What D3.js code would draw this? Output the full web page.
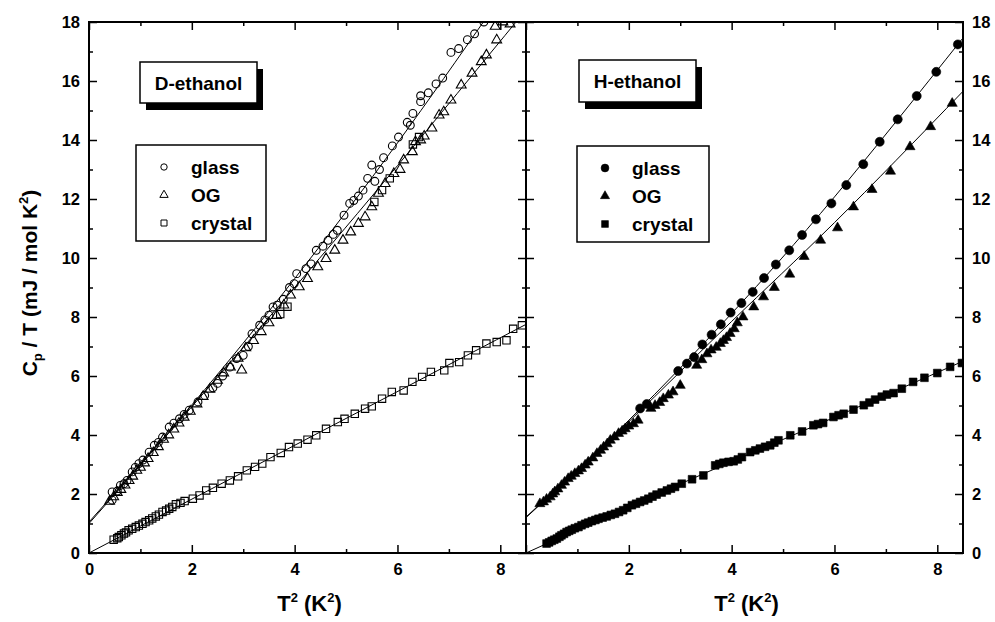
<!DOCTYPE html>
<html>
<head>
<meta charset="utf-8">
<script src="https://cdn.jsdelivr.net/npm/d3@7"></script>
<style>
  body { margin: 0; background: #fff; }
  svg { display: block; font-family: "Liberation Sans", Arial, Helvetica, sans-serif; font-weight: bold; }
</style>
</head>
<body>
<div id="chart"></div>
<script>
// ---- data: [T^2 (K^2), Cp/T (mJ/mol K^2)] ----
const xMajor = [0, 2, 4, 6, 8];
const xMinor = [1, 3, 5, 7];
const yMajor = [0, 2, 4, 6, 8, 10, 12, 14, 16, 18];
const yMinor = [1, 3, 5, 7, 9, 11, 13, 15, 17];
const legendNames = ['glass', 'OG', 'crystal'];

// D-ethanol (open symbols)
const dGlass = [[0.45,1.79],[0.45,2.07],[0.55,2.1],[0.61,2.29],[0.68,2.35],[0.74,2.46],[0.84,2.75],[0.9,2.9],[0.97,3.03],[1.05,3.15],
  [1.17,3.42],[1.27,3.65],[1.35,3.75],[1.43,3.93],[1.56,4.27],[1.65,4.4],[1.76,4.55],[1.85,4.7],[1.95,4.84],[2.12,5.12],
  [2.25,5.34],[2.41,5.6],[2.5,5.75],[2.6,6.0],[2.74,6.3],[2.87,6.59],[3.0,6.7],[3.1,7.0],[3.17,7.43],[3.32,7.72],
  [3.42,7.9],[3.5,8.06],[3.58,8.34],[3.66,8.4],[3.78,8.6],[3.9,9.0],[3.99,9.13],[4.04,9.47],[4.22,9.64],[4.32,9.8],
  [4.42,10.26],[4.55,10.4],[4.65,10.6],[4.75,10.8],[4.83,10.94],[4.96,11.45],[5.07,11.85],[5.15,11.95],[5.24,12.1],[5.33,12.3],
  [5.42,12.7],[5.5,13.15],[5.56,12.6],[5.65,13.0],[5.73,13.4],[5.9,13.8],[6.02,14.1],[6.19,14.6],[6.25,14.5],[6.3,14.9],
  [6.45,15.3],[6.45,15.5],[6.6,15.6],[6.75,15.9],[6.88,16.1],[7.04,16.97],[7.19,17.1],[7.36,17.4],[7.5,17.6],[7.68,18.0]];
const dOG = [[0.4,1.75],[0.48,1.9],[0.55,2.05],[0.62,2.15],[0.7,2.3],[0.78,2.45],[0.85,2.6],[0.93,2.8],[1.0,2.9],[1.08,3.05],
  [1.15,3.2],[1.25,3.4],[1.35,3.6],[1.45,3.85],[1.55,4.0],[1.65,4.2],[1.75,4.4],[1.85,4.6],[1.97,4.8],[2.1,5.05],
  [2.22,5.3],[2.35,5.55],[2.5,5.85],[2.62,6.1],[2.75,6.3],[2.9,6.6],[2.97,6.2],[3.05,6.95],[3.2,7.2],[3.35,7.5],
  [3.5,7.8],[3.65,8.05],[3.79,8.4],[3.92,8.74],[4.09,9.02],[4.25,9.3],[4.45,9.7],[4.61,9.98],[4.78,10.26],[4.94,10.6],
  [5.09,10.88],[5.24,11.17],[5.37,11.39],[5.5,11.73],[5.63,12.19],[5.76,12.52],[5.93,12.86],[6.05,13.0],[6.12,13.32],[6.29,13.6],
  [6.35,13.94],[6.45,14.0],[6.52,14.13],[6.67,14.4],[6.81,14.84],[6.9,14.95],[7.04,15.35],[7.24,15.86],[7.45,16.26],[7.63,16.65],
  [7.73,16.88],[7.9,17.85],[7.93,17.39],[8.05,18.0],[8.19,17.93]];
const dCrystal = [[0.48,0.45],[0.55,0.5],[0.58,0.54],[0.63,0.6],[0.68,0.66],[0.72,0.7],[0.77,0.77],[0.84,0.82],[0.91,0.88],[0.97,0.93],
  [1.04,0.99],[1.1,1.05],[1.17,1.11],[1.23,1.17],[1.3,1.24],[1.36,1.3],[1.43,1.39],[1.5,1.44],[1.56,1.5],[1.62,1.56],
  [1.69,1.65],[1.78,1.7],[1.86,1.76],[2.02,1.84],[2.15,1.95],[2.28,2.12],[2.41,2.21],[2.58,2.35],[2.74,2.46],[2.9,2.6],
  [3.07,2.8],[3.23,2.92],[3.37,3.03],[3.53,3.25],[3.73,3.39],[3.89,3.59],[4.06,3.71],[4.25,3.84],[4.42,3.99],[4.61,4.21],
  [4.84,4.44],[4.97,4.55],[5.17,4.72],[5.37,4.89],[5.5,4.97],[5.7,5.23],[5.89,5.46],[6.12,5.51],[6.29,5.8],[6.48,5.97],
  [6.65,6.14],[6.91,6.19],[7.01,6.44],[7.2,6.47],[7.37,6.7],[7.53,6.87],[7.73,7.1],[7.93,7.15],[8.12,7.21],[8.25,7.6],[8.42,7.72]];
// a few extra squares hidden in the OG band
const dSquaresOG = [[3.72,8.1],[3.86,8.35],[5.55,11.9],[5.7,12.3],[5.85,12.7],[6.3,13.85],[6.42,14.1]];

// H-ethanol (filled symbols)
const hGlass = [[2.22,4.9],[2.35,5.05],[2.96,6.17],[3.13,6.42],[3.27,6.64],[3.43,7.07],[3.61,7.4],[3.79,7.75],[3.98,8.15],[4.19,8.47],
  [4.41,8.85],[4.63,9.32],[4.86,9.78],[5.12,10.26],[5.37,10.78],[5.64,11.31],[5.94,11.85],[6.23,12.47],[6.56,13.18],[6.88,13.94],
  [7.23,14.7],[7.6,15.49],[7.98,16.31],[8.4,17.24]];
const hOG = [[0.27,1.67],[0.34,1.73],[0.4,1.82],[0.47,1.9],[0.52,2.0],[0.56,2.07],[0.62,2.17],[0.69,2.29],[0.75,2.4],[0.82,2.52],
  [0.88,2.6],[0.95,2.69],[1.02,2.78],[1.08,2.86],[1.15,2.98],[1.21,3.08],[1.3,3.22],[1.38,3.37],[1.45,3.48],[1.51,3.59],
  [1.58,3.7],[1.64,3.82],[1.72,3.93],[1.8,4.05],[1.87,4.13],[1.93,4.21],[2.0,4.3],[2.09,4.38],[2.18,4.5],[2.43,4.9],
  [2.51,5.0],[2.6,5.1],[2.67,5.23],[2.77,5.35],[2.86,5.46],[3.0,5.68],[3.32,6.36],[3.42,6.55],[3.52,6.75],[3.6,6.88],
  [3.7,6.97],[3.78,7.1],[3.84,7.2],[3.9,7.3],[3.97,7.44],[4.05,7.6],[4.11,7.8],[4.22,8.0],[4.43,8.34],[4.62,8.68],
  [4.83,9.0],[5.13,9.45],[5.41,10.05],[5.73,10.6],[6.06,11.02],[6.37,11.73],[6.73,12.32],[7.09,12.94],[7.47,13.77],[7.87,14.45],[8.29,15.24]];
const hCrystal = [[0.4,0.32],[0.45,0.36],[0.5,0.41],[0.55,0.45],[0.6,0.49],[0.65,0.55],[0.69,0.6],[0.74,0.65],[0.79,0.71],[0.84,0.75],
  [0.89,0.79],[0.95,0.84],[1.02,0.88],[1.08,0.94],[1.15,0.99],[1.21,1.03],[1.28,1.08],[1.35,1.12],[1.41,1.16],[1.49,1.2],
  [1.57,1.24],[1.65,1.29],[1.73,1.33],[1.81,1.39],[1.89,1.45],[1.97,1.53],[2.06,1.62],[2.14,1.67],[2.22,1.73],[2.3,1.78],
  [2.38,1.84],[2.46,1.91],[2.54,1.98],[2.64,2.05],[2.74,2.12],[2.82,2.18],[2.9,2.24],[3.03,2.35],[3.23,2.5],[3.45,2.63],
  [3.68,2.97],[3.76,3.02],[3.84,3.06],[3.94,3.09],[4.04,3.11],[4.12,3.17],[4.2,3.25],[4.36,3.42],[4.46,3.48],[4.55,3.54],
  [4.65,3.6],[4.75,3.65],[4.83,3.74],[4.91,3.82],[5.14,3.99],[5.37,4.12],[5.59,4.33],[5.68,4.37],[5.78,4.41],[5.98,4.61],
  [6.08,4.67],[6.18,4.72],[6.37,4.86],[6.57,5.01],[6.68,5.1],[6.79,5.2],[6.92,5.3],[7.02,5.37],[7.15,5.42],[7.31,5.57],
  [7.53,5.8],[7.75,5.94],[8.0,6.1],[8.25,6.31],[8.48,6.44]];

// fitted curves, knots
const dGlassFit = [[0,1.05],[2,5.02],[4,9.3],[6,13.9],[7.75,18.2]];
const dOGFit = [[0,1.0],[2,4.96],[4,9.0],[6,13.13],[8.4,18.2]];
const dCrystalFit = [[0,0],[4,3.65],[8.5,7.75]];
const hGlassFit = [[0,1.22],[2,4.5],[4,8.12],[6,12.07],[8.5,17.46]];
const hOGFit = [[0,1.2],[2,4.45],[4,7.85],[6,11.2],[8.5,15.65]];
const hCrystalFit = [[0,0],[2,1.57],[4,3.1],[6,4.6],[8.5,6.5]];

// ---- layout ----
const W = 995, H = 622;
const plotTop = 22, plotBottom = 553;
const xDomain = [0, 8.5];

const symbols = [d3.symbolCircle, d3.symbolTriangle, d3.symbolSquare];

const panels = [
  { x0: 89, x1: 526, title: 'D-ethanol', filled: false, side: 'left',
    titleBox: [140, 62, 117, 41], legendBox: [136, 145, 130, 96],
    series: [
      { pts: dGlass, fit: dGlassFit, sym: 0 },
      { pts: dOG, fit: dOGFit, sym: 1 },
      { pts: dCrystal, fit: dCrystalFit, sym: 2 },
      { pts: dSquaresOG, fit: null, sym: 2 }
    ] },
  { x0: 526, x1: 963, title: 'H-ethanol', filled: true, side: 'right',
    titleBox: [579, 60, 117, 42], legendBox: [577, 146, 132, 96],
    series: [
      { pts: hGlass, fit: hGlassFit, sym: 0 },
      { pts: hOG, fit: hOGFit, sym: 1 },
      { pts: hCrystal, fit: hCrystalFit, sym: 2 }
    ] }
];

const openSize = [48, 42, 54];
const fillSize = [64, 44, 60];
const legendSize = [[32, 30, 36], [48, 36, 46]];

const svg = d3.select('#chart').append('svg')
  .attr('width', W)
  .attr('height', H);

const y = d3.scaleLinear().domain([0, 18]).range([plotBottom, plotTop]);

function styleAxis(g, fontSize) {
  g.select('.domain').remove();
  g.selectAll('.tick line').attr('stroke', '#000').attr('stroke-width', 1.5);
  g.selectAll('.tick text').attr('fill', '#000').attr('font-size', fontSize).attr('font-weight', 'bold')
    .attr('font-family', '"Liberation Sans", Arial, sans-serif');
}

panels.forEach((p, i) => {
  const x = d3.scaleLinear().domain(xDomain).range([p.x0, p.x1]);
  const g = svg.append('g');

  svg.append('clipPath').attr('id', 'clip' + i)
    .append('rect')
      .attr('x', p.x0).attr('y', plotTop)
      .attr('width', p.x1 - p.x0).attr('height', plotBottom - plotTop);

  const plot = g.append('g').attr('clip-path', `url(#clip${i})`);
  const line = d3.line().x(d => x(d[0])).y(d => y(d[1])).curve(d3.curveNatural);

  p.series.forEach(s => {
    if (s.fit) {
      plot.append('path')
        .datum(s.fit)
        .attr('d', line)
        .attr('fill', 'none')
        .attr('stroke', '#000')
        .attr('stroke-width', 1);
    }
    const size = p.filled ? fillSize[s.sym] : openSize[s.sym];
    plot.selectAll(null)
      .data(s.pts)
      .enter()
      .append('path')
        .attr('transform', d => `translate(${x(d[0])},${y(d[1])})`)
        .attr('d', d3.symbol().type(symbols[s.sym]).size(size))
        .attr('fill', p.filled ? '#000' : 'none')
        .attr('stroke', '#000')
        .attr('stroke-width', p.filled ? 0.6 : 1.1);
  });

  // x axes, ticks pointing inward
  g.append('g').attr('transform', `translate(0,${plotBottom})`)
    .call(d3.axisBottom(x).tickValues(xMajor).tickSizeInner(-8).tickSizeOuter(0).tickPadding(10)
      .tickFormat(v => (p.side === 'right' && v === 0) ? '' : v))
    .call(a => styleAxis(a, 16.5));
  g.append('g').attr('transform', `translate(0,${plotBottom})`)
    .call(d3.axisBottom(x).tickValues(xMinor).tickSizeInner(-4).tickSizeOuter(0).tickFormat(''))
    .call(a => styleAxis(a, 16.5));
  g.append('g').attr('transform', `translate(0,${plotTop})`)
    .call(d3.axisTop(x).tickValues(xMajor).tickSizeInner(-8).tickSizeOuter(0).tickFormat(''))
    .call(a => styleAxis(a, 16.5));
  g.append('g').attr('transform', `translate(0,${plotTop})`)
    .call(d3.axisTop(x).tickValues(xMinor).tickSizeInner(-4).tickSizeOuter(0).tickFormat(''))
    .call(a => styleAxis(a, 16.5));

  // outer y axis with labels
  if (p.side === 'left') {
    g.append('g').attr('transform', `translate(${p.x0},0)`)
      .call(d3.axisLeft(y).tickValues(yMajor).tickSizeInner(-8).tickSizeOuter(0).tickPadding(9))
      .call(a => styleAxis(a, 16.5));
    g.append('g').attr('transform', `translate(${p.x0},0)`)
      .call(d3.axisLeft(y).tickValues(yMinor).tickSizeInner(-4).tickSizeOuter(0).tickFormat(''))
      .call(a => styleAxis(a, 16.5));
  } else {
    g.append('g').attr('transform', `translate(${p.x1},0)`)
      .call(d3.axisRight(y).tickValues(yMajor).tickSizeInner(-8).tickSizeOuter(0).tickPadding(9))
      .call(a => styleAxis(a, 16.5));
    g.append('g').attr('transform', `translate(${p.x1},0)`)
      .call(d3.axisRight(y).tickValues(yMinor).tickSizeInner(-4).tickSizeOuter(0).tickFormat(''))
      .call(a => styleAxis(a, 16.5));
  }

  g.append('rect')
    .attr('x', p.x0).attr('y', plotTop)
    .attr('width', p.x1 - p.x0).attr('height', plotBottom - plotTop)
    .attr('fill', 'none').attr('stroke', '#000').attr('stroke-width', 2);

  // title box with drop shadow
  const [tx, ty, tw, th] = p.titleBox;
  g.append('rect').attr('x', tx + 6).attr('y', ty + 7).attr('width', tw).attr('height', th).attr('fill', '#000');
  g.append('rect').attr('x', tx).attr('y', ty).attr('width', tw).attr('height', th)
    .attr('fill', '#fff').attr('stroke', '#000').attr('stroke-width', 1.5);
  g.append('text')
    .attr('x', tx + tw / 2).attr('y', ty + th / 2 + 7)
    .attr('text-anchor', 'middle')
    .attr('font-size', 19)
    .text(p.title);

  // legend
  const [lx, ly, lw, lh] = p.legendBox;
  g.append('rect').attr('x', lx).attr('y', ly).attr('width', lw).attr('height', lh)
    .attr('fill', '#fff').attr('stroke', '#000').attr('stroke-width', 1.5);
  const rows = g.selectAll('.legrow').data(legendNames).enter().append('g')
    .attr('class', 'legrow')
    .attr('transform', (d, k) => `translate(${lx},${ly + 22 + k * 28})`);
  rows.append('path')
    .attr('transform', 'translate(28,0)')
    .attr('d', (d, k) => d3.symbol().type(symbols[k]).size(legendSize[p.filled ? 1 : 0][k])())
    .attr('fill', p.filled ? '#000' : 'none')
    .attr('stroke', '#000')
    .attr('stroke-width', p.filled ? 0.6 : 1);
  rows.append('text')
    .attr('x', 55).attr('y', 7)
    .attr('font-size', 19)
    .text(d => d);

  // x title
  const xt = g.append('text')
    .attr('x', (p.x0 + p.x1) / 2 + 2).attr('y', 611)
    .attr('text-anchor', 'middle')
    .attr('font-size', 22);
  xt.append('tspan').text('T');
  xt.append('tspan').attr('font-size', 13).attr('dy', -9).text('2');
  xt.append('tspan').attr('dy', 9).text(' (K');
  xt.append('tspan').attr('font-size', 13).attr('dy', -9).text('2');
  xt.append('tspan').attr('dy', 9).text(')');
});

// inner divider ticks, both sides
const divX = panels[0].x1;
[[yMajor, 8], [yMinor, 4]].forEach(([vals, len]) => {
  svg.append('g').attr('transform', `translate(${divX},0)`)
    .call(d3.axisLeft(y).tickValues(vals).tickSizeInner(len).tickSizeOuter(0).tickFormat(''))
    .call(a => styleAxis(a, 16.5));
  svg.append('g').attr('transform', `translate(${divX},0)`)
    .call(d3.axisRight(y).tickValues(vals).tickSizeInner(len).tickSizeOuter(0).tickFormat(''))
    .call(a => styleAxis(a, 16.5));
});

// y title
const yt = svg.append('text')
  .attr('transform', 'translate(37,283) rotate(-90)')
  .attr('text-anchor', 'middle')
  .attr('font-size', 21);
yt.append('tspan').text('C');
yt.append('tspan').attr('font-size', 13).attr('dy', 5).text('p');
yt.append('tspan').attr('dy', -5).text(' / T (mJ / mol K');
yt.append('tspan').attr('font-size', 13).attr('dy', -9).text('2');
yt.append('tspan').attr('dy', 9).text(')');
</script>
</body>
</html>
